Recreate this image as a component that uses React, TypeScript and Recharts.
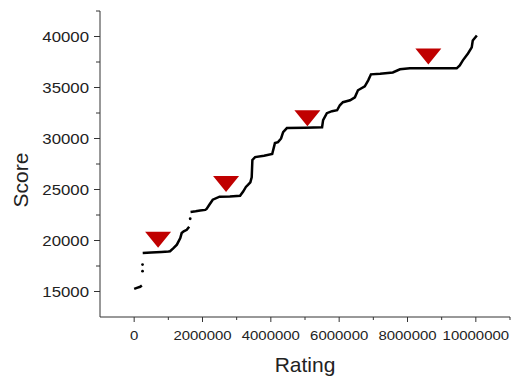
import React from 'react';
import { ComposedChart, Line, Scatter, XAxis, YAxis } from 'recharts';

// Black step-like curve, split where the original shows gaps
const segARating = [0, 80000, 175000, 225000];
const segAScore = [15260, 15360, 15460, 15590];

const segBRating = [250000, 500000, 800000, 1000000, 1050000, 1150000, 1250000, 1350000, 1390000, 1450000, 1540000, 1610000];
const segBScore = [18780, 18830, 18880, 18920, 18950, 19250, 19590, 20240, 20730, 20900, 21050, 21350];

const segCRating = [
  1650000, 1800000, 1930000, 2080000, 2120000, 2200000, 2300000, 2500000, 2800000, 3100000,
  3190000, 3270000, 3330000, 3400000, 3440000, 3460000, 3540000, 3800000, 4040000, 4120000,
  4210000, 4300000, 4360000, 4470000, 5000000, 5500000, 5530000, 5640000, 5790000, 5940000,
  6020000, 6110000, 6320000, 6460000, 6550000, 6750000, 6850000, 6930000, 7200000, 7570000,
  7780000, 8070000, 9440000, 9530000, 9620000, 9770000, 9880000, 9910000, 10030000,
];
const segCScore = [
  22800, 22870, 22950, 23000, 23100, 23500, 24000, 24300, 24320, 24380,
  24800, 25250, 25450, 25700, 26200, 27900, 28180, 28300, 28480, 29550,
  29650, 30000, 30630, 31020, 31060, 31110, 31800, 32480, 32680, 32770,
  33260, 33560, 33750, 34040, 34730, 35120, 35700, 36290, 36350, 36480,
  36780, 36880, 36880, 37170, 37660, 38340, 38930, 39610, 40100,
];

// isolated points in the jumps
const dotRating = [245000, 245000, 1640000];
const dotScore = [16990, 17640, 22130];

// red downward triangles (value = top edge)
const markerRating = [700000, 2690000, 5070000, 8610000];
const markerScore = [20860, 26330, 32770, 38830];

const xMajorTicks = [0, 2000000, 4000000, 6000000, 8000000, 10000000];
const xMinorTicks = [1000000, 3000000, 5000000, 7000000, 9000000, 11000000];
const yMajorTicks = [15000, 20000, 25000, 30000, 35000, 40000];
const yMinorTicks = [17500, 22500, 27500, 32500, 37500, 42500];

const zip = (xs: number[], ys: number[]) => xs.map((x, i) => ({ x, y: ys[i] }));
const segA = zip(segARating, segAScore);
const segB = zip(segBRating, segBScore);
const segC = zip(segCRating, segCScore);
const dots = zip(dotRating, dotScore);
const markers = zip(markerRating, markerScore);

const xTicks = [...xMajorTicks, ...xMinorTicks].sort((a, b) => a - b);
const yTicks = [...yMajorTicks, ...yMinorTicks].sort((a, b) => a - b);

const AXIS = '#333';
const FONT = '"Liberation Sans", Arial, sans-serif';

const XTick = (props: any) => {
  const { x, y, payload } = props;
  const major = xMajorTicks.includes(payload.value);
  return (
    <g>
      <line x1={x} x2={x} y1={y} y2={y + (major ? 5 : 3)} stroke={AXIS} strokeWidth={1} />
      {major && (
        <text
          transform={`translate(${x},${y + 23}) scale(1.15,1)`}
          textAnchor="middle"
          fontFamily={FONT}
          fontSize={13}
          fill="#222"
        >
          {payload.value}
        </text>
      )}
    </g>
  );
};

const YTick = (props: any) => {
  const { x, y, payload } = props;
  const major = yMajorTicks.includes(payload.value);
  return (
    <g>
      <line x1={x - (major ? 6 : 4)} x2={x} y1={y} y2={y} stroke={AXIS} strokeWidth={1} />
      {major && (
        <text
          transform={`translate(${x - 11},${y + 5}) scale(1.2,1)`}
          textAnchor="end"
          fontFamily={FONT}
          fontSize={14}
          fill="#222"
        >
          {payload.value}
        </text>
      )}
    </g>
  );
};

const Triangle = (props: any) => {
  const { cx, cy } = props;
  return <polygon points={`${cx - 13},${cy} ${cx + 13},${cy} ${cx},${cy + 16}`} fill="#C00000" />;
};

const Dot = (props: any) => {
  const { cx, cy } = props;
  return <circle cx={cx} cy={cy} r={1.4} fill="#000" />;
};

export default function App() {
  return (
    <div style={{ position: 'absolute', left: 0, top: 0, width: 513, height: 377, background: '#fff' }}>
      <ComposedChart width={513} height={377} margin={{ top: 11, right: 3, bottom: 0, left: 0 }}>
        <XAxis
          type="number"
          dataKey="x"
          domain={[-1000000, 11000000]}
          allowDataOverflow
          ticks={xTicks}
          interval={0}
          tickSize={0}
          tickMargin={0}
          tickLine={false}
          tick={<XTick />}
          axisLine={{ stroke: AXIS, strokeWidth: 1 }}
          height={60}
          label={{
            content: (p: any) => (
              <text
                x={p.viewBox.x + p.viewBox.width / 2}
                y={p.viewBox.y + 55}
                textAnchor="middle"
                fontFamily={FONT}
                fontSize={21}
                fill="#222"
              >
                Rating
              </text>
            ),
          }}
        />
        <YAxis
          type="number"
          dataKey="y"
          domain={[12500, 42500]}
          allowDataOverflow
          ticks={yTicks}
          interval={0}
          tickSize={0}
          tickMargin={0}
          tickLine={false}
          tick={<YTick />}
          axisLine={{ stroke: AXIS, strokeWidth: 1 }}
          width={100}
          label={{
            content: (p: any) => (
              <text
                transform={`translate(${p.viewBox.x + 28},${p.viewBox.y + p.viewBox.height / 2 + 16}) rotate(-90)`}
                textAnchor="middle"
                fontFamily={FONT}
                fontSize={21}
                fill="#222"
              >
                Score
              </text>
            ),
          }}
        />
        <Line data={segA} dataKey="y" type="linear" stroke="#000" strokeWidth={2.5} dot={false} isAnimationActive={false} />
        <Line data={segB} dataKey="y" type="linear" stroke="#000" strokeWidth={2.5} dot={false} isAnimationActive={false} />
        <Line data={segC} dataKey="y" type="linear" stroke="#000" strokeWidth={2.5} dot={false} isAnimationActive={false} />
        <Scatter data={dots} dataKey="y" shape={<Dot />} isAnimationActive={false} />
        <Scatter data={markers} dataKey="y" shape={<Triangle />} isAnimationActive={false} />
      </ComposedChart>
    </div>
  );
}
